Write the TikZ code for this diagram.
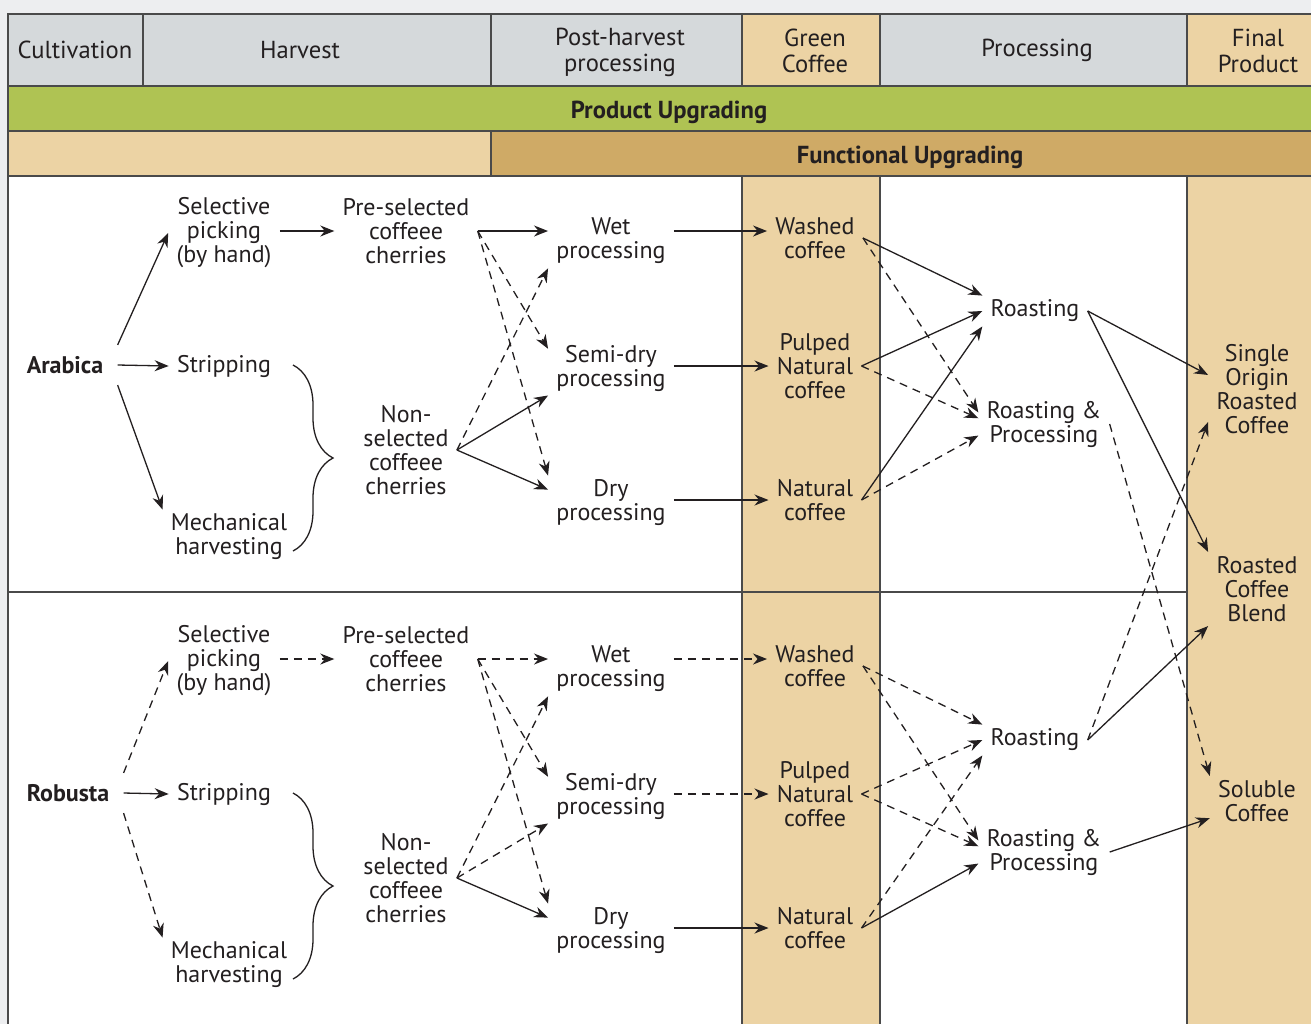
\documentclass[tikz,border=0pt]{standalone}
\usepackage{fontspec}
\setmainfont{PT Sans}
\usepackage{xcolor}
\usetikzlibrary{arrows.meta, decorations.pathreplacing}

\definecolor{pagegray}{HTML}{EDEEF0}
\definecolor{headgray}{HTML}{D5D9DB}
\definecolor{beige}{HTML}{ECD3A4}
\definecolor{ochre}{HTML}{CFAA66}
\definecolor{leafgreen}{HTML}{AFC353}
\definecolor{rulegray}{HTML}{4A4A4A}
\definecolor{inkgray}{HTML}{231F20}

\begin{document}
\begin{tikzpicture}[x=0.5pt, y=-0.5pt,
    txt/.style={align=center, text=inkgray, font=\fontsize{12}{12}\selectfont,
      inner xsep=4pt, inner ysep=2pt},
    head/.style={txt, font=\fontsize{12.3}{13}\selectfont},
    variety/.style={txt, font=\fontsize{12}{12}\selectfont\bfseries,
      inner xsep=7pt, inner ysep=5.5pt},
    band/.style={txt, font=\fontsize{12.3}{12}\selectfont\bfseries},
    rule/.style={draw=rulegray, line width=0.8pt},
    arr/.style={-{Stealth[length=7pt, width=5.5pt]}, draw=inkgray, line width=0.65pt},
    darr/.style={arr, dash pattern=on 4pt off 3pt},
    curly/.style={draw=inkgray, line width=0.65pt,
      decorate, decoration={brace, amplitude=20pt}}]

\useasboundingbox (0,0) rectangle (1311,1024);
\fill[pagegray] (0,0) rectangle (1311,1024);

% bands and columns
\fill[headgray] (8,14) rectangle (1311,86);
\fill[beige] (742,14) rectangle (880,86);
\fill[beige] (1187,14) rectangle (1311,86);
\fill[leafgreen] (8,86) rectangle (1311,131);
\fill[beige] (8,131) rectangle (491,176);
\fill[ochre] (491,131) rectangle (1311,176);
\fill[white] (8,176) rectangle (1311,1024);
\fill[beige] (742,176) rectangle (880,1024);
\fill[beige] (1187,176) rectangle (1311,1024);

% table rules
\draw[rule] (1311,14) -- (8,14) -- (8,1024);
\draw[rule] (8,86) -- (1311,86);
\draw[rule] (8,131) -- (1311,131);
\draw[rule] (8,176) -- (1311,176);
\draw[rule] (8,592) -- (1187,592);
\draw[rule] (143,14) -- (143,86);
\draw[rule] (491,14) -- (491,86);
\draw[rule] (491,131) -- (491,176);
\draw[rule] (742,14) -- (742,86);
\draw[rule] (742,176) -- (742,1024);
\draw[rule] (880,14) -- (880,86);
\draw[rule] (880,176) -- (880,1024);
\draw[rule] (1187,14) -- (1187,86);
\draw[rule] (1187,176) -- (1187,1024);

% headings
\node[head] (hcult) at (75,50) {Cultivation};
\node[head] (hharv) at (300,50) {Harvest};
\node[head] (hpost) at (620,52) {Post-harvest\\processing};
\node[head] (hgreen) at (815,51) {Green\\Coffee};
\node[head] (hproc) at (1037,50) {Processing};
\node[head] (hfinal) at (1258,51) {Final\\Product};
\node[band] (produp) at (669,112) {Product Upgrading};
\node[band] (funcup) at (910,157) {Functional Upgrading};

% Arabica
\node[variety] (ara) at (65,365) {Arabica};
\node[txt] (asel) at (224,233) {Selective\\picking\\(by hand)};
\node[txt] (astr) at (224,366) {Stripping};
\node[txt] (amech) at (229,537) {Mechanical\\harvesting};
\node[txt] (apre) at (406,231) {Pre-selected\\coffeee\\cherries};
\node[txt] (anon) at (406,450) {Non-\\selected\\coffeee\\cherries};
\node[txt] (awet) at (611,241) {Wet\\processing};
\node[txt] (asemi) at (611,368) {Semi-dry\\processing};
\node[txt] (adry) at (611,503) {Dry\\processing};
\node[txt] (awash) at (815,238) {Washed\\coffee};
\node[txt] (apulp) at (815,366) {Pulped\\Natural\\coffee};
\node[txt] (anat) at (815,500) {Natural\\coffee};
\node[txt] (aroast) at (1035,311) {Roasting};
\node[txt] (arp) at (1044,424) {Roasting \&\\Processing};

% Robusta
\node[variety] (rob) at (68,793) {Robusta};
\node[txt] (rsel) at (224,661) {Selective\\picking\\(by hand)};
\node[txt] (rstr) at (224,794) {Stripping};
\node[txt] (rmech) at (229,965) {Mechanical\\harvesting};
\node[txt] (rpre) at (406,659) {Pre-selected\\coffeee\\cherries};
\node[txt] (rnon) at (406,878) {Non-\\selected\\coffeee\\cherries};
\node[txt] (rwet) at (611,669) {Wet\\processing};
\node[txt] (rsemi) at (611,796) {Semi-dry\\processing};
\node[txt] (rdry) at (611,931) {Dry\\processing};
\node[txt] (rwash) at (815,666) {Washed\\coffee};
\node[txt] (rpulp) at (815,794) {Pulped\\Natural\\coffee};
\node[txt] (rnat) at (815,928) {Natural\\coffee};
\node[txt] (rroast) at (1035,740) {Roasting};
\node[txt] (rrp) at (1044,852) {Roasting \&\\Processing};

% final products
\node[txt] (single) at (1257,389) {Single\\Origin\\Roasted\\Coffee};
\node[txt] (blend) at (1257,589) {Roasted\\Coffee\\Blend};
\node[txt] (soluble) at (1257,801) {Soluble\\Coffee};

% Arabica arrows
\draw[arr] (ara.north east) -- (asel.west);
\draw[arr] (ara.east) -- (astr.west);
\draw[arr] (ara.south east) -- (amech.north west);
\draw[arr] (apre.west -| asel.east) -- (apre.west);
\draw[arr] (apre.east) -- (apre.east -| awet.west);
\draw[darr] (apre.east) -- (asemi.163);
\draw[darr] (apre.east) -- (adry.north west);
\draw[darr] (anon.east) -- (awet.south west);
\draw[arr] (anon.east) -- (asemi.south west);
\draw[arr] (anon.east) -- (adry.168);
\draw[curly] (293,365) -- (293,551);
\draw[arr] (apre.east -| awet.east) -- (apre.east -| awash.west);
\draw[arr] (apulp.west -| asemi.east) -- (apulp.west);
\draw[arr] (anat.west -| adry.east) -- (anat.west);
\draw[arr] (awash.east) -- (aroast.north west);
\draw[darr] (awash.east) -- (arp.170);
\draw[arr] (apulp.east) -- (aroast.west);
\draw[darr] (apulp.east) -- (arp.175);
\draw[arr] (anat.east) -- (aroast.south west);
\draw[darr] (anat.east) -- (arp.190);
\draw[arr] (aroast.east) -- (single.164);
\draw[arr] (aroast.east) -- (blend.north west);
\draw[darr] (arp.east) -- (soluble.north west);

% Robusta arrows
\draw[darr] (rob.north east) -- (rsel.west);
\draw[arr] (rob.east) -- (rstr.west);
\draw[darr] (rob.south east) -- (rmech.north west);
\draw[darr] (rpre.west -| rsel.east) -- (rpre.west);
\draw[darr] (rpre.east) -- (rpre.east -| rwet.west);
\draw[darr] (rpre.east) -- (rsemi.163);
\draw[darr] (rpre.east) -- (rdry.north west);
\draw[darr] (rnon.east) -- (rwet.south west);
\draw[darr] (rnon.east) -- (rsemi.south west);
\draw[arr] (rnon.east) -- (rdry.168);
\draw[curly] (293,793) -- (293,979);
\draw[darr] (rpre.east -| rwet.east) -- (rpre.east -| rwash.west);
\draw[darr] (rpulp.west -| rsemi.east) -- (rpulp.west);
\draw[arr] (rnat.west -| rdry.east) -- (rnat.west);
\draw[darr] (rwash.east) -- (rroast.north west);
\draw[darr] (rwash.east) -- (rrp.170);
\draw[darr] (rpulp.east) -- (rroast.west);
\draw[darr] (rpulp.east) -- (rrp.175);
\draw[darr] (rnat.east) -- (rroast.south west);
\draw[arr] (rnat.east) -- (rrp.190);
\draw[darr] (rroast.east) -- (single.214);
\draw[arr] (rroast.east) -- (blend.south west);
\draw[arr] (rrp.east) -- (soluble.200);

\end{tikzpicture}
\end{document}
